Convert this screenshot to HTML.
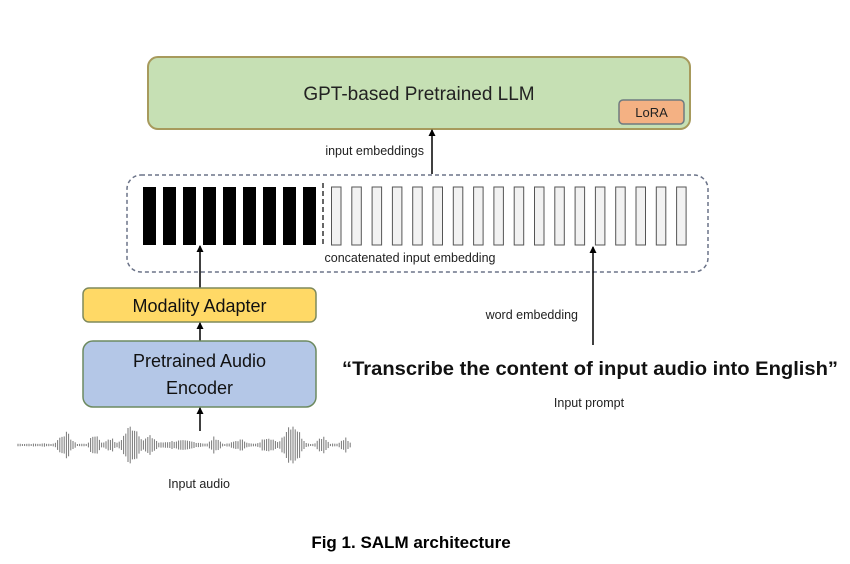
<!DOCTYPE html>
<html><head><meta charset="utf-8"><style>
html,body{margin:0;padding:0;background:#fff;width:850px;height:564px;overflow:hidden}
text{font-family:"Liberation Sans",sans-serif}
</style></head><body>
<svg id="s" width="850" height="564" viewBox="0 0 850 564" xmlns="http://www.w3.org/2000/svg">
<defs><marker id="a" markerUnits="userSpaceOnUse" markerWidth="7" markerHeight="7" refX="6" refY="3.5" orient="auto"><path d="M0,0 L7,3.5 L0,7 z" fill="#000"/></marker></defs>
<rect x="148" y="57" width="542" height="72" rx="10" fill="#c6e0b4" stroke="#a79a5c" stroke-width="2"/>
<text x="419" y="100" font-size="19" text-anchor="middle" fill="#222">GPT-based Pretrained LLM</text>
<rect x="619" y="100" width="65" height="24" rx="4" fill="#f4b183" stroke="#6e7a80" stroke-width="1.5"/>
<text x="651.5" y="117" font-size="13" text-anchor="middle" fill="#222">LoRA</text>
<line x1="432" y1="174" x2="432" y2="130" stroke="#000" stroke-width="1.5" marker-end="url(#a)"/>
<text x="424" y="155" font-size="12.5" text-anchor="end" fill="#222">input embeddings</text>
<rect x="127" y="175" width="581" height="97" rx="14" fill="none" stroke="#6b7388" stroke-width="1.5" stroke-dasharray="4,3"/>
<line x1="323" y1="183" x2="323" y2="247" stroke="#333" stroke-width="1.5" stroke-dasharray="5,3"/>
<g id="bars"></g>
<text x="410" y="262" font-size="12.5" text-anchor="middle" fill="#222">concatenated input embedding</text>
<line x1="200" y1="288" x2="200" y2="246" stroke="#000" stroke-width="1.5" marker-end="url(#a)"/>
<rect x="83" y="288" width="233" height="34" rx="6" fill="#ffd966" stroke="#7f8a5c" stroke-width="1.5"/>
<text x="199.5" y="312" font-size="18" text-anchor="middle" fill="#111">Modality Adapter</text>
<line x1="200" y1="341" x2="200" y2="323" stroke="#000" stroke-width="1.5" marker-end="url(#a)"/>
<rect x="83" y="341" width="233" height="66" rx="10" fill="#b4c7e7" stroke="#6d8a60" stroke-width="1.5"/>
<text x="199.5" y="367" font-size="18" text-anchor="middle" fill="#111">Pretrained Audio</text>
<text x="199.5" y="394" font-size="18" text-anchor="middle" fill="#111">Encoder</text>
<line x1="200" y1="431" x2="200" y2="408" stroke="#000" stroke-width="1.5" marker-end="url(#a)"/>
<g id="wave" stroke="#777" stroke-width="1"></g>
<text x="199" y="488" font-size="12.5" text-anchor="middle" fill="#222">Input audio</text>
<line x1="593" y1="345" x2="593" y2="247" stroke="#000" stroke-width="1.5" marker-end="url(#a)"/>
<text x="578" y="319" font-size="12.5" text-anchor="end" fill="#222">word embedding</text>
<text x="342" y="375" font-size="19" font-weight="bold" fill="#111" textLength="496" lengthAdjust="spacingAndGlyphs">“Transcribe the content of input audio into English”</text>
<text x="589" y="407" font-size="12.5" text-anchor="middle" fill="#222">Input prompt</text>
<text x="411" y="548" font-size="17" font-weight="bold" text-anchor="middle" fill="#000">Fig 1. SALM architecture</text>
</svg>
<script>
var b=document.getElementById("bars"),h="";
for(var i=0;i<9;i++)h+='<rect x="'+(143+i*20)+'" y="187" width="13" height="58" fill="#000"/>';
for(var i=0;i<18;i++)h+='<rect x="'+(331.5+i*20.3)+'" y="187" width="9.5" height="58" fill="#f2f2f2" stroke="#555" stroke-width="1"/>';
b.innerHTML=h;
var w="",bursts=[[45,6,2],[65,8,14],[95,6,12],[110,6,8],[132,10,22],[150,8,10],[180,25,5],[215,6,9],[240,10,6],[268,8,10],[292,10,25],[322,6,10],[345,6,8]];
var seed=7;function r(){seed=(seed*9301+49297)%233280;return seed/233280;}
for(var x=18;x<=352;x+=2.2){var a=1.5;for(var k=0;k<bursts.length;k++){var c=bursts[k],d=(x-c[0])/c[1];a=Math.max(a,c[2]*Math.exp(-d*d));}
a*=0.6+0.4*r();w+='<line x1="'+x+'" y1="'+(445-a)+'" x2="'+x+'" y2="'+(445+a)+'"/>';}
document.getElementById("wave").innerHTML=w;
</script>
</body></html>
